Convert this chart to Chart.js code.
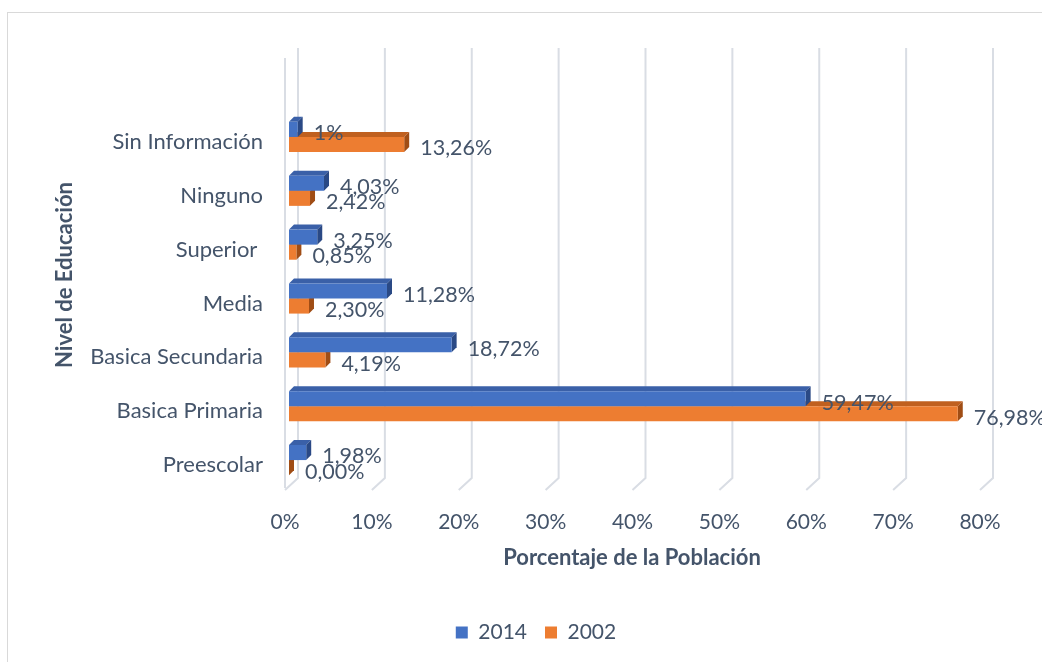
<!DOCTYPE html>
<html>
<head>
<meta charset="utf-8">
<script src="https://cdn.jsdelivr.net/npm/chart.js@4.4.1/dist/chart.umd.min.js"></script>
<style>
    html, body { margin: 0; padding: 0; background: #ffffff; }
    #wrap { width: 1042px; height: 662px; position: relative; }
</style>
</head>
<body>
<div id="wrap"><canvas id="Chart" width="1042" height="662"></canvas></div>
<script>
const categories = ['Sin Información', 'Ninguno', 'Superior ', 'Media', 'Basica Secundaria', 'Basica Primaria', 'Preescolar'];
const values2014 = [1, 4.03, 3.25, 11.28, 18.72, 59.47, 1.98];
const values2002 = [13.26, 2.42, 0.85, 2.30, 4.19, 76.98, 0.00];
const text2014 = ['1%', '4,03%', '3,25%', '11,28%', '18,72%', '59,47%', '1,98%'];
const text2002 = ['13,26%', '2,42%', '0,85%', '2,30%', '4,19%', '76,98%', '0,00%'];
const xTicks = [0, 10, 20, 30, 40, 50, 60, 70, 80];

const textColor = '#44546A';
const fontName = 'Lato, "Open Sans", sans-serif';

// frame, 3d grid, bar side faces
const frame3d = {
    id: 'frame3d',
    beforeDraw(chart) {
        const ctx = chart.ctx;
        ctx.save();
        ctx.strokeStyle = '#D9D9D9';
        ctx.lineWidth = 1;
        ctx.strokeRect(7.5, 12.5, 1200, 800);
        ctx.restore();
    },
    beforeDatasetsDraw(chart) {
        const ctx = chart.ctx;
        const area = chart.chartArea;
        const x = chart.scales.x;
        ctx.save();
        ctx.strokeStyle = '#D9DDE4';
        ctx.lineWidth = 2;
        xTicks.forEach(v => {
            const px = x.getPixelForValue(v);
            ctx.beginPath();
            ctx.moveTo(px + 9, area.top - 62);
            ctx.lineTo(px + 9, area.bottom - 9);
            ctx.lineTo(px - 4, area.bottom + 3);
            ctx.stroke();
        });
        const p0 = x.getPixelForValue(0);
        ctx.beginPath();
        ctx.moveTo(p0 - 4, area.top - 52);
        ctx.lineTo(p0 - 4, area.bottom + 1);
        ctx.stroke();

        // top and right faces of the bars, drawn behind the front faces
        const faces = [
            { top: '#3A60A8', side: '#2A4985' },
            { top: '#C0601F', side: '#A04D15' }
        ];
        const dx = 5, dy = 5;
        [1, 0].forEach(di => {
            const meta = chart.getDatasetMeta(di);
            meta.data.forEach(bar => {
                const x0 = bar.base, x1 = bar.x;
                const top = bar.y - bar.height / 2, bottom = bar.y + bar.height / 2;
                ctx.fillStyle = faces[di].top;
                ctx.beginPath();
                ctx.moveTo(x0, top);
                ctx.lineTo(x0 + dx, top - dy);
                ctx.lineTo(x1 + dx, top - dy);
                ctx.lineTo(x1, top);
                ctx.closePath();
                ctx.fill();
                ctx.fillStyle = faces[di].side;
                ctx.beginPath();
                ctx.moveTo(x1, top);
                ctx.lineTo(x1 + dx, top - dy);
                ctx.lineTo(x1 + dx, bottom - dy);
                ctx.lineTo(x1, bottom);
                ctx.closePath();
                ctx.fill();
            });
        });
        ctx.restore();
    },
    afterDatasetsDraw(chart) {
        const ctx = chart.ctx;
        const texts = [text2014, text2002];
        ctx.save();
        ctx.fillStyle = textColor;
        ctx.font = '21.5px ' + fontName;
        ctx.textAlign = 'left';
        ctx.textBaseline = 'middle';
        [0, 1].forEach(di => {
            chart.getDatasetMeta(di).data.forEach((bar, i) => {
                ctx.fillText(texts[di][i], bar.x + 16, bar.y + 4);
            });
        });

        // axis titles
        ctx.font = 'bold 22px ' + fontName;
        ctx.textAlign = 'center';
        ctx.fillText('Porcentaje de la Población', 632, 558);
        ctx.translate(65, 275);
        ctx.rotate(-Math.PI / 2);
        ctx.fillText('Nivel de Educación', 0, 0);
        ctx.restore();
    }
};

const barChartElement = document.getElementById('Chart').getContext('2d');
const barChart = new Chart(barChartElement, {
    type: 'bar',
    data: {
        labels: categories,
        datasets: [
            {
                label: '2014',
                data: values2014,
                backgroundColor: '#4472C4',
                borderWidth: 0,
                categoryPercentage: 0.56,
                barPercentage: 1
            },
            {
                label: '2002',
                data: values2002,
                backgroundColor: '#ED7D31',
                borderWidth: 0,
                categoryPercentage: 0.56,
                barPercentage: 1
            }
        ]
    },
    options: {
        indexAxis: 'y',
        animation: false,
        responsive: false,
        layout: {
            padding: { left: 88, right: 58, top: 110, bottom: 9 }
        },
        plugins: {
            legend: {
                position: 'bottom',
                labels: {
                    boxWidth: 12,
                    boxHeight: 12,
                    padding: 18,
                    color: textColor,
                    font: { family: fontName, size: 21 }
                }
            },
            tooltip: { enabled: false }
        },
        scales: {
            x: {
                min: 0,
                max: 80,
                grid: { display: false, drawTicks: false },
                border: { display: false },
                afterFit(scale) { scale.height = 117; },
                ticks: {
                    stepSize: 10,
                    padding: 23,
                    labelOffset: -4,
                    color: textColor,
                    font: { family: fontName, size: 21 },
                    callback: v => v + '%'
                }
            },
            y: {
                grid: { display: false, drawTicks: false },
                border: { display: false },
                afterFit(scale) { scale.width = 201; },
                ticks: {
                    padding: 26,
                    labelOffset: 5,
                    color: textColor,
                    font: { family: fontName, size: 22 }
                }
            }
        }
    },
    plugins: [frame3d]
});
</script>
</body>
</html>
